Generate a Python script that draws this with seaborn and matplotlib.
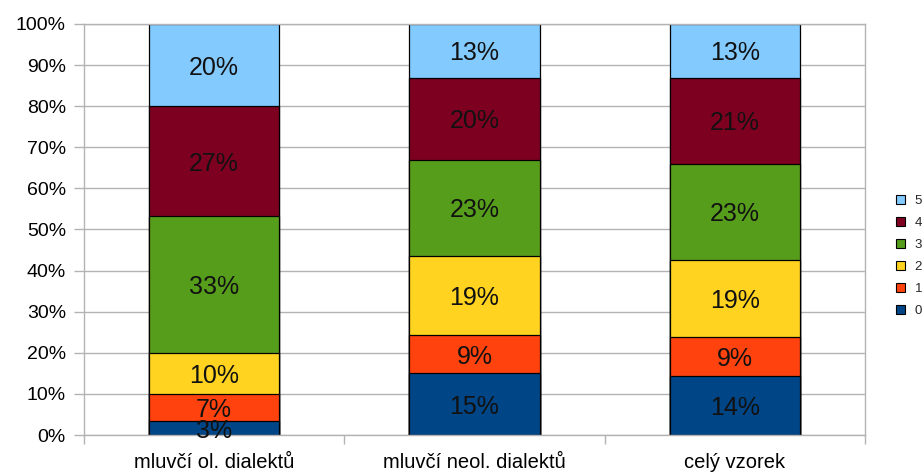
import numpy as np
import pandas as pd
import matplotlib
matplotlib.use("Agg")
import matplotlib.pyplot as plt
from matplotlib.patches import Patch
from matplotlib.ticker import FixedLocator, PercentFormatter
import seaborn as sns

# Groups of respondents and answer levels (0-5), shares in percent
categories = ["mluvčí ol. dialektů", "mluvčí neol. dialektů", "celý vzorek"]
levels = ["0", "1", "2", "3", "4", "5"]
level_0 = [3.33, 15.0, 14.4]
level_1 = [6.67, 9.3, 9.4]
level_2 = [10.0, 19.3, 18.9]
level_3 = [33.33, 23.4, 23.2]
level_4 = [26.67, 19.9, 21.0]
level_5 = [20.0, 13.1, 13.1]
colors = ["#004586", "#ff420e", "#ffd320", "#579d1c", "#7e0021", "#83caff"]

series = [level_0, level_1, level_2, level_3, level_4, level_5]
df = pd.DataFrame({"kategorie": categories})
for lvl, vals in zip(levels, series):
    df[lvl] = vals
cum = df[levels].cumsum(axis=1)

sns.set_style("white")
plt.rcParams["font.family"] = ["Liberation Sans", "DejaVu Sans"]

fig = plt.figure(figsize=(9.22, 4.76), dpi=100)
ax = fig.add_axes([84 / 922, 41 / 476, 781 / 922, 411 / 476])

grid_c = "#b3b3b3"
ax.set_axisbelow(True)
ax.yaxis.grid(True, color=grid_c, linewidth=1)

# stacked bars: draw the cumulative totals from the top level down
for lvl, col in reversed(list(zip(levels, colors))):
    sns.barplot(data=cum.assign(kategorie=categories), x="kategorie", y=lvl,
                color=col, saturation=1, width=0.5, errorbar=None,
                edgecolor="black", linewidth=0.9, ax=ax)

# percentage labels in the middle of each segment
for i in range(len(categories)):
    bottom = 0.0
    for lvl in levels:
        v = df.loc[i, lvl]
        ax.text(i, bottom + v / 2, f"{round(v)}%", ha="center",
                va="center_baseline", fontsize=18, color="#111111")
        bottom += v

ax.set_ylim(0, 100)
ax.set_xlim(-0.5, len(categories) - 0.5)
ax.set_xlabel("")
ax.set_ylabel("")
ax.yaxis.set_major_locator(FixedLocator(np.arange(0, 101, 10)))
ax.yaxis.set_major_formatter(PercentFormatter(decimals=0))
ax.xaxis.set_minor_locator(FixedLocator(np.arange(-0.5, len(categories), 1.0)))
ax.tick_params(axis="y", which="major", length=7, width=1, color=grid_c,
               direction="out", pad=6, labelsize=14, labelcolor="black", left=True)
ax.tick_params(axis="x", which="major", length=0, pad=13, labelsize=14.5,
               labelcolor="black")
ax.tick_params(axis="x", which="minor", length=6.5, width=1, color=grid_c,
               direction="out", bottom=True)

for side in ["left", "right", "bottom", "top"]:
    ax.spines[side].set_visible(True)
    ax.spines[side].set_color(grid_c)
    ax.spines[side].set_linewidth(1)

handles = [Patch(facecolor=c, edgecolor="black", linewidth=0.8, label=l)
           for l, c in zip(levels, colors)]
fig.legend(handles=handles[::-1], labels=levels[::-1], loc="center left",
           bbox_to_anchor=(896 / 922, 1 - 256 / 476), frameon=False,
           fontsize=9.5, handlelength=0.65, handleheight=0.65,
           handletextpad=0.75, labelspacing=0.75, borderpad=0, borderaxespad=0)

fig.savefig("out.png", dpi=100)
